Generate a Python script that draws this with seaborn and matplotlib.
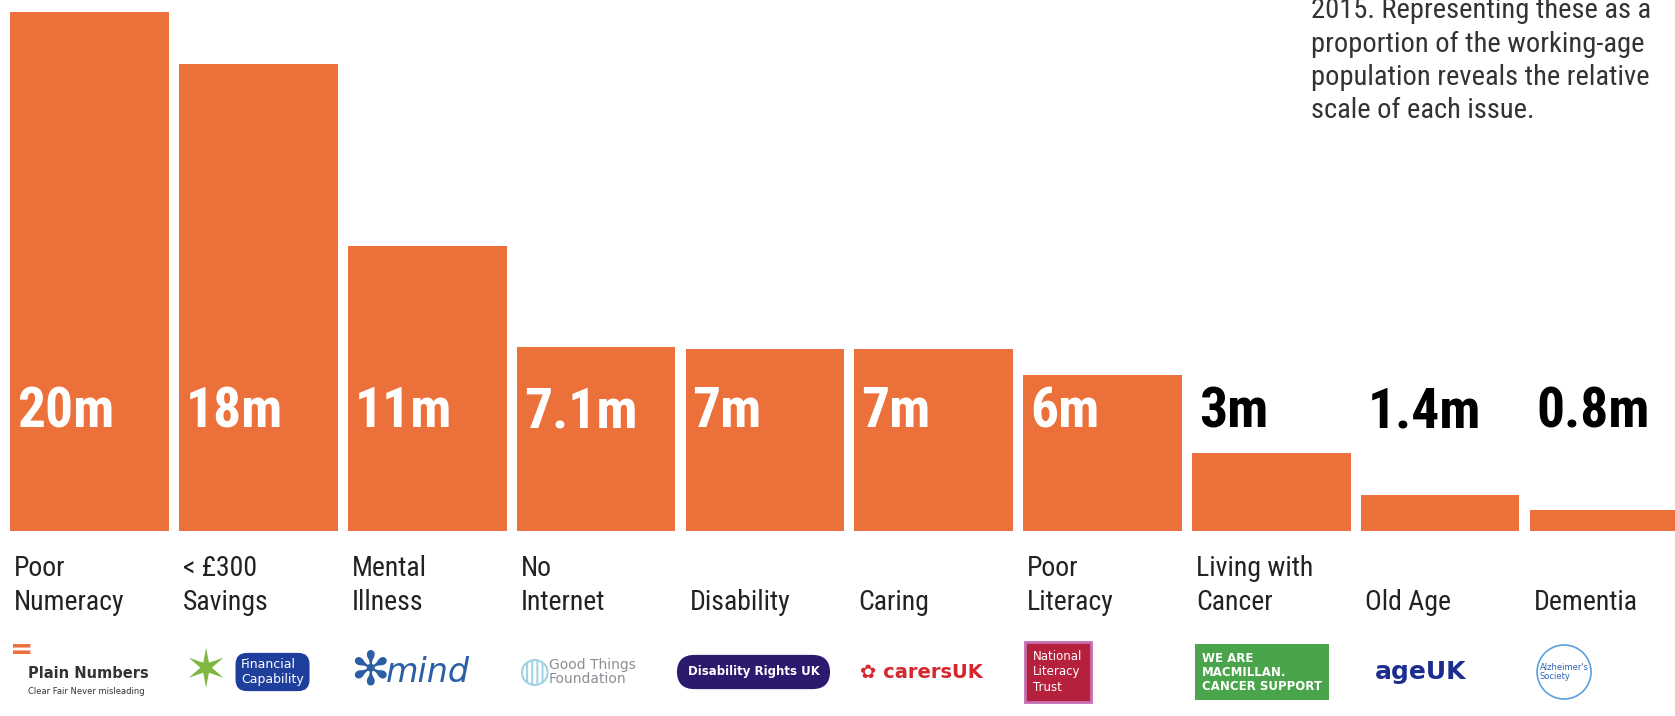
import matplotlib
matplotlib.use("Agg")
import matplotlib.pyplot as plt
import seaborn as sns
import pandas as pd
from matplotlib import font_manager as fm

categories = ["Poor\nNumeracy", "< £300\nSavings", "Mental\nIllness", "No\nInternet",
              "Disability", "Caring", "Poor\nLiteracy", "Living with\nCancer",
              "Old Age", "Dementia"]
values = [20, 18, 11, 7.1, 7, 7, 6, 3, 1.4, 0.8]
value_labels = ["20m", "18m", "11m", "7.1m", "7m", "7m", "6m", "3m", "1.4m", "0.8m"]
note_lines = ["2015. Representing these as a",
              "proportion of the working-age",
              "population reveals the relative",
              "scale of each issue."]

sns.set_theme(style="white")
avail = {f.name for f in fm.fontManager.ttflist}
narrow = next((f for f in ["Roboto Condensed", "Liberation Sans Narrow", "Liberation Sans"] if f in avail), "DejaVu Sans")
plt.rcParams['font.family'] = [narrow, 'DejaVu Sans']

W, H = 1675, 716
fig = plt.figure(figsize=(W / 100, H / 100), dpi=100)
fig.patch.set_facecolor("white")

base_px = 531
top_px = 12
pitch = 168.8
left_px = 89.7 - pitch / 2
ax = fig.add_axes([left_px / W, (H - base_px) / H, pitch * 10 / W, (base_px - top_px) / H])

df = pd.DataFrame({"cat": categories, "val": values})
orange = "#EC7039"
sns.barplot(data=df, x="cat", y="val", color=orange, saturation=1, width=0.94,
            edgecolor="none", linewidth=0, ax=ax)
ax.set_xlim(-0.5, 9.5)
ax.set_ylim(0, 20)
ax.axis("off")

pt = 72 / 100  # px -> points
bar_half = 0.47

def yfrac(y_px):
    return (base_px - y_px) / (base_px - top_px)

for i, (v, lab) in enumerate(zip(values, value_labels)):
    col = "white" if v >= 5 else "black"
    ax.annotate(lab, xy=(i - bar_half, yfrac(427)), xycoords=("data", "axes fraction"),
                xytext=(7 * pt, 0), textcoords="offset points",
                ha="left", va="baseline", fontsize=40, fontweight="bold", color=col)
    lines = categories[i].split("\n")
    if len(lines) == 1:
        lines = ["", lines[0]]
    for ln, yb in zip(lines, [576, 610]):
        if ln:
            ax.annotate(ln, xy=(i - bar_half, yfrac(yb)), xycoords=("data", "axes fraction"),
                        xytext=(4 * pt, 0), textcoords="offset points",
                        ha="left", va="baseline", fontsize=20, color="#222222")

# organisation marks beneath each category (text stand-ins for logos)
logo_y = yfrac(672)
def logo(i, txt, dx=6, y=None, **kw):
    ax.annotate(txt, xy=(i - bar_half, logo_y if y is None else yfrac(y)),
                xycoords=("data", "axes fraction"),
                xytext=(dx * pt, 0), textcoords="offset points",
                ha="left", va="center", family=["DejaVu Sans"], **kw)

logo(0, "=", dx=0, y=650, fontsize=20, fontweight="bold", color=orange)
logo(0, "Plain Numbers", dx=18, y=673, fontsize=10.5, fontweight="bold", color="#333333")
logo(0, "Clear Fair Never misleading", dx=18, y=691, fontsize=6, color="#333333")
logo(1, "✶", dx=4, fontsize=38, color="#7fb742")
logo(1, "Financial\nCapability", dx=62, fontsize=9, color="white", linespacing=1.1,
     bbox=dict(boxstyle="round,pad=0.45,rounding_size=0.9", fc="#1f3f9c", ec="none"))
logo(2, "✻", dx=2, fontsize=34, color="#2c5ea3")
logo(2, "mind", dx=38, fontsize=24, fontstyle="italic", color="#2c5ea3")
logo(3, "◍", dx=2, fontsize=26, color="#9fd2e6")
logo(3, "Good Things\nFoundation", dx=32, fontsize=10, color="#8a8f94", linespacing=1.0)
logo(4, "Disability Rights UK", dx=2, fontsize=8.5, fontweight="bold", color="white",
     bbox=dict(boxstyle="round,pad=0.9,rounding_size=1.5", fc="#2b1a6d", ec="none"))
logo(5, "✿ carersUK", dx=6, fontsize=14, fontweight="bold", color="#d4272e")
logo(6, "National\nLiteracy\nTrust", dx=10, fontsize=8.5, color="white", linespacing=1.25,
     bbox=dict(boxstyle="square,pad=0.7", fc="#b5213c", ec="#c66fb0", lw=2))
logo(7, "WE ARE\nMACMILLAN.\nCANCER SUPPORT", dx=10, fontsize=8.5, fontweight="bold", color="white",
     linespacing=1.1, bbox=dict(boxstyle="square,pad=0.6", fc="#4aa44b", ec="none"))
logo(8, "ageUK", dx=14, fontsize=18, fontweight="bold", color="#1d2d8f")
logo(9, "Alzheimer's\nSociety", dx=10, fontsize=6, color="#2a64b4", linespacing=1.1,
     bbox=dict(boxstyle="circle,pad=0.3", fc="white", ec="#5aa0e0", lw=1.2))

for k, ln in enumerate(note_lines):
    fig.text(1311 / W, (H - (18 + 33.5 * k)) / H, ln, ha="left", va="baseline",
             fontsize=20.5, color="#333333")

fig.savefig("out.png", dpi=100, facecolor="white")
